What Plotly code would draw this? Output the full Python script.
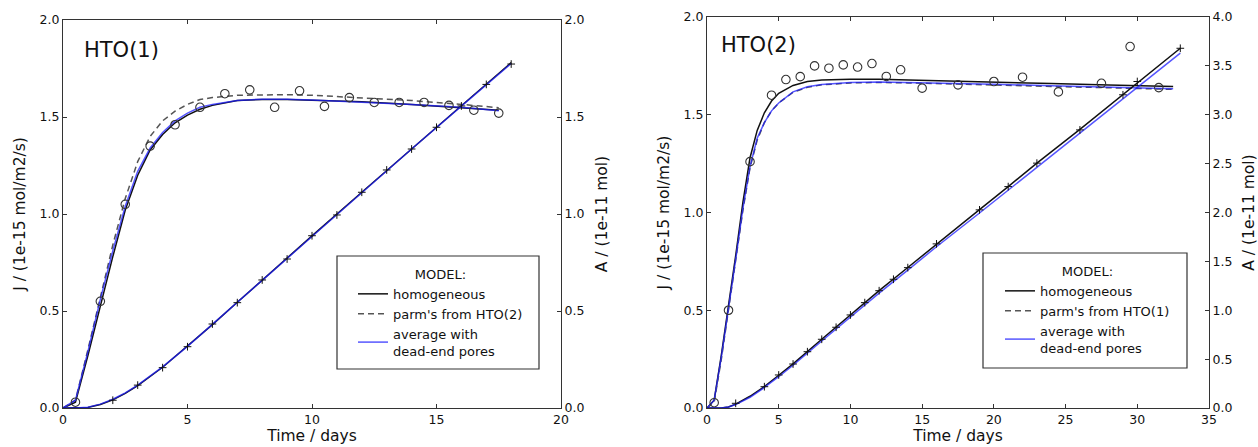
import plotly.graph_objects as go

# ---------------- Panel 1: HTO(1) ----------------
t_data1 = [0.5, 1.5, 2.5, 3.5, 4.5, 5.5, 6.5, 7.5, 8.5, 9.5, 10.5, 11.5, 12.5, 13.5, 14.5, 15.5, 16.5, 17.5]
J_data1 = [0.03, 0.55, 1.05, 1.35, 1.46, 1.55, 1.62, 1.64, 1.55, 1.635, 1.555, 1.60, 1.575, 1.575, 1.575, 1.56, 1.535, 1.52]
tA_data1 = [2, 3, 4, 5, 6, 7, 8, 9, 10, 11, 12, 13, 14, 15, 16, 17, 18]
A_data1 = [0.04, 0.118, 0.208, 0.316, 0.433, 0.543, 0.66, 0.768, 0.888, 0.995, 1.112, 1.227, 1.335, 1.447, 1.557, 1.668, 1.773]

t_model1 = [0, 0.5, 1, 1.5, 2, 2.5, 3, 3.5, 4, 4.5, 5, 5.5, 6, 7, 8, 9, 10, 12, 14, 16, 17.5]
J_hom1 = [0, 0.03, 0.27, 0.53, 0.78, 1.02, 1.20, 1.33, 1.41, 1.47, 1.51, 1.54, 1.56, 1.585, 1.59, 1.59, 1.587, 1.578, 1.565, 1.548, 1.535]
J_parm1 = [0, 0.04, 0.30, 0.57, 0.84, 1.08, 1.27, 1.40, 1.48, 1.53, 1.565, 1.59, 1.60, 1.612, 1.615, 1.615, 1.612, 1.60, 1.585, 1.565, 1.548]
J_avg1 = [0, 0.04, 0.29, 0.56, 0.81, 1.04, 1.22, 1.34, 1.42, 1.48, 1.52, 1.55, 1.565, 1.585, 1.592, 1.592, 1.588, 1.578, 1.565, 1.55, 1.532]

tA_model1 = [0, 0.5, 1, 1.5, 2, 2.5, 3, 4, 5, 6, 7, 8, 10, 12, 14, 16, 18]
A_hom1 = [0, 0, 0.003, 0.018, 0.042, 0.075, 0.115, 0.21, 0.318, 0.43, 0.545, 0.66, 0.887, 1.112, 1.337, 1.558, 1.78]
A_avg1 = [0, 0, 0.004, 0.02, 0.045, 0.078, 0.118, 0.212, 0.318, 0.43, 0.543, 0.658, 0.884, 1.11, 1.335, 1.556, 1.776]

# ---------------- Panel 2: HTO(2) ----------------
t_data2 = [0.5, 1.5, 3.0, 4.5, 5.5, 6.5, 7.5, 8.5, 9.5, 10.5, 11.5, 12.5, 13.5, 15.0, 17.5, 20.0, 22.0, 24.5, 27.5, 29.5, 31.5]
J_data2 = [0.027, 0.50, 1.26, 1.60, 1.68, 1.695, 1.75, 1.738, 1.755, 1.744, 1.762, 1.696, 1.73, 1.636, 1.653, 1.67, 1.692, 1.617, 1.661, 1.849, 1.639]
tA_data2 = [2, 4, 5, 6, 7, 8, 9, 10, 11, 12, 13, 14, 16, 19, 21, 23, 26, 29, 30, 33]
A_data2 = [0.048, 0.218, 0.338, 0.45, 0.576, 0.703, 0.826, 0.952, 1.078, 1.2, 1.317, 1.436, 1.679, 2.027, 2.265, 2.505, 2.845, 3.204, 3.34, 3.68]

t_model2 = [0, 0.5, 1, 1.5, 2, 2.5, 3, 3.5, 4, 4.5, 5, 6, 7, 8, 10, 12, 14, 16, 20, 24, 28, 32.5]
J_hom2 = [0, 0.04, 0.27, 0.52, 0.78, 1.05, 1.28, 1.42, 1.51, 1.57, 1.61, 1.65, 1.67, 1.678, 1.682, 1.681, 1.678, 1.675, 1.668, 1.66, 1.652, 1.644]
J_parm2 = [0, 0.03, 0.25, 0.50, 0.76, 1.01, 1.23, 1.37, 1.46, 1.52, 1.56, 1.615, 1.64, 1.653, 1.663, 1.665, 1.663, 1.66, 1.653, 1.645, 1.638, 1.63]
J_avg2 = [0, 0.04, 0.26, 0.50, 0.76, 1.02, 1.235, 1.38, 1.46, 1.52, 1.56, 1.617, 1.643, 1.655, 1.665, 1.667, 1.665, 1.662, 1.656, 1.648, 1.641, 1.633]

tA_model2 = [0, 1, 1.5, 2, 3, 4, 5, 6, 8, 10, 12, 14, 16, 19, 21, 23, 26, 29, 30, 33]
A_hom2 = [0, 0, 0.01, 0.04, 0.12, 0.22, 0.335, 0.452, 0.703, 0.952, 1.2, 1.437, 1.678, 2.03, 2.265, 2.505, 2.85, 3.205, 3.33, 3.68]
A_avg2 = [0, 0, 0.01, 0.035, 0.11, 0.21, 0.32, 0.437, 0.685, 0.93, 1.175, 1.41, 1.65, 1.995, 2.23, 2.465, 2.81, 3.16, 3.28, 3.63]

legend_names1 = ["homogeneous", "parm's from HTO(2)", "average with<br>dead-end pores"]
legend_names2 = ["homogeneous", "parm's from HTO(1)", "average with<br>dead-end pores"]

BLACK = "#111111"
GRAY = "#555555"
BLUE = "rgba(30,30,255,0.75)"
FONT = "DejaVu Sans"

fig = go.Figure()


def add_panel(xa, yl, yr, leg, names, t_m, Jh, Jp, Ja, tA_m, Ah, Aa, t_d, J_d, tA_d, A_d):
    # model J lines
    fig.add_trace(go.Scatter(x=t_m, y=Jh, mode="lines", name=names[0], legend=leg, legendgroup=leg + "a",
                             line=dict(color=BLACK, width=1.5), xaxis=xa, yaxis=yl))
    fig.add_trace(go.Scatter(x=t_m, y=Jp, mode="lines", name=names[1], legend=leg, legendgroup=leg + "b",
                             line=dict(color=GRAY, width=1.5, dash="6px,4px"), xaxis=xa, yaxis=yl))
    fig.add_trace(go.Scatter(x=t_m, y=Ja, mode="lines", name=names[2], legend=leg, legendgroup=leg + "c",
                             line=dict(color=BLUE, width=1.5), xaxis=xa, yaxis=yl))
    # model A lines
    fig.add_trace(go.Scatter(x=tA_m, y=Ah, mode="lines", showlegend=False,
                             line=dict(color=BLACK, width=1.5), xaxis=xa, yaxis=yr))
    fig.add_trace(go.Scatter(x=tA_m, y=Aa, mode="lines", showlegend=False,
                             line=dict(color=BLUE, width=1.5), xaxis=xa, yaxis=yr))
    # data
    fig.add_trace(go.Scatter(x=t_d, y=J_d, mode="markers", showlegend=False,
                             marker=dict(symbol="circle-open", size=8.5, color="#333333",
                                         line=dict(width=1.1, color="#333333")),
                             xaxis=xa, yaxis=yl))
    fig.add_trace(go.Scatter(x=tA_d, y=A_d, mode="markers", showlegend=False,
                             marker=dict(symbol="cross-thin", size=5.5,
                                         line=dict(width=1, color="#111111")),
                             xaxis=xa, yaxis=yr))


add_panel("x", "y", "y2", "legend", legend_names1, t_model1, J_hom1, J_parm1, J_avg1,
          tA_model1, A_hom1, A_avg1, t_data1, J_data1, tA_data1, A_data1)
add_panel("x2", "y3", "y4", "legend2", legend_names2, t_model2, J_hom2, J_parm2, J_avg2,
          tA_model2, A_hom2, A_avg2, t_data2, J_data2, tA_data2, A_data2)

W, H = 1258, 447
d1 = [63 / W, 561 / W]
d2 = [707 / W, 1209 / W]
yd1 = [(H - 408) / H, (H - 20) / H]
yd2 = [(H - 408) / H, (H - 17) / H]

tickfont = dict(family=FONT, size=12.5, color="#111111")
titlefont = dict(family=FONT, size=15.5, color="#111111")
common_axis = dict(showline=True, linecolor="#333333", linewidth=1, ticks="inside", ticklen=4,
                   tickcolor="#333333", showgrid=False, zeroline=False, tickfont=tickfont,
                   automargin=False)

legend_common = dict(xanchor="left", yanchor="top", borderwidth=0, bgcolor="rgba(255,255,255,0)",
                     font=dict(family=FONT, size=13, color="#111111"),
                     title=dict(text="MODEL:", side="top center", font=dict(family=FONT, size=13)),
                     tracegroupgap=0, itemwidth=30)

# legend frames (px): panel 1 and panel 2
box1 = (337, 256, 539, 369)
box2 = (983, 253, 1187, 368)


def frame(b):
    return dict(type="rect", xref="paper", yref="paper", x0=b[0] / W, x1=b[2] / W,
                y0=(H - b[3]) / H, y1=(H - b[1]) / H, line=dict(color="#333333", width=1.2),
                fillcolor="white", layer="below")


fig.update_layout(
    width=W, height=H,
    margin=dict(l=0, r=0, t=0, b=0),
    paper_bgcolor="white", plot_bgcolor="rgba(0,0,0,0)",
    font=dict(family=FONT, size=12, color="#111111"),
    xaxis=dict(domain=d1, anchor="y", range=[0, 20], dtick=5, tick0=0, mirror="ticks",
               title=dict(text="Time / days", font=titlefont, standoff=4), **common_axis),
    yaxis=dict(domain=yd1, anchor="x", range=[0, 2], dtick=0.5, tickformat=".1f",
               title=dict(text="J / (1e-15 mol/m2/s)", font=titlefont, standoff=10), **common_axis),
    yaxis2=dict(overlaying="y", anchor="x", side="right", range=[0, 2], dtick=0.5, tickformat=".1f",
                title=dict(text="A / (1e-11 mol)", font=titlefont, standoff=12), **common_axis),
    xaxis2=dict(domain=d2, anchor="y3", range=[0, 35], dtick=5, tick0=0, mirror="ticks",
                title=dict(text="Time / days", font=titlefont, standoff=4), **common_axis),
    yaxis3=dict(domain=yd2, anchor="x2", range=[0, 2], dtick=0.5, tickformat=".1f",
                title=dict(text="J / (1e-15 mol/m2/s)", font=titlefont, standoff=10), **common_axis),
    yaxis4=dict(overlaying="y3", anchor="x2", side="right", range=[0, 4], dtick=0.5, tickformat=".1f",
                title=dict(text="A / (1e-11 mol)", font=titlefont, standoff=12), **common_axis),
    legend=dict(x=353 / W, y=(H - 262) / H, **legend_common),
    legend2=dict(x=1000 / W, y=(H - 259) / H, **legend_common),
    shapes=[frame(box1), frame(box2)],
    annotations=[
        dict(text="HTO(1)", x=0.76, y=1.845, xref="x", yref="y", xanchor="left", yanchor="middle",
             showarrow=False, font=dict(family=FONT, size=21, color="#111111")),
        dict(text="HTO(2)", x=0.84, y=1.858, xref="x2", yref="y3", xanchor="left", yanchor="middle",
             showarrow=False, font=dict(family=FONT, size=21, color="#111111")),
    ],
)

fig.write_html("out.html")
